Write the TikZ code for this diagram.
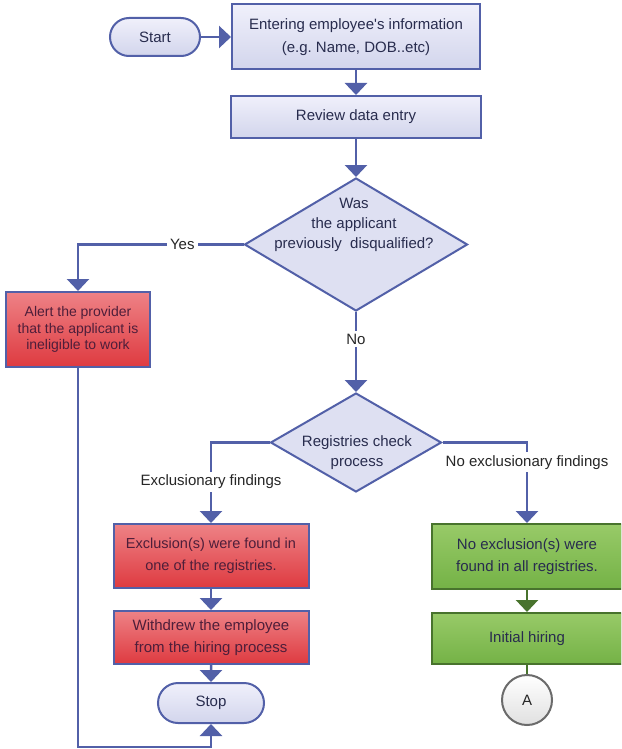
\documentclass[tikz,border=0pt]{standalone}
\usepackage{fontspec}
\setmainfont{Liberation Sans}
\frenchspacing
\usetikzlibrary{arrows.meta,shapes.geometric,shapes.misc}
\definecolor{lineblue}{RGB}{82,96,168}
\definecolor{boxtop}{RGB}{240,240,251}
\definecolor{boxbot}{RGB}{210,213,236}
\definecolor{redtop}{RGB}{238,130,134}
\definecolor{redbot}{RGB}{222,58,64}
\definecolor{greentop}{RGB}{152,202,104}
\definecolor{greenbot}{RGB}{116,178,70}
\definecolor{greenline}{RGB}{72,115,45}
\definecolor{txt}{RGB}{40,44,78}
\definecolor{redtxt}{RGB}{78,30,58}
\definecolor{diafill}{RGB}{222,224,242}
\newcommand\fsA{\fontsize{15}{22.5}\selectfont}
\newcommand\fsB{\fontsize{14}{16.5}\selectfont}
\newcommand\fsC{\fontsize{15}{20}\selectfont}
\newcommand\fsD{\fontsize{14.5}{22}\selectfont}
\tikzset{
  base/.style={draw=lineblue, line width=2pt, inner sep=0pt, align=center, font=\fsA, text=txt},
  bluebox/.style={base, rectangle, top color=boxtop, bottom color=boxbot},
  redbox/.style={base, rectangle, top color=redtop, bottom color=redbot, text=redtxt},
  greenbox/.style={base, rectangle, draw=greenline, top color=greentop, bottom color=greenbot},
  pill/.style={base, rounded rectangle, top color=boxtop, bottom color=boxbot},
  decision/.style={base, diamond, fill=diafill},
  conn/.style={draw=lineblue, line width=2.5pt, -{Triangle[width=22pt,length=12pt]}},
  gconn/.style={draw=greenline, line width=2.5pt, -{Triangle[width=22pt,length=12pt]}},
  lbl/.style={fill=white, inner sep=3pt, font=\fsA, text=black!85}
}
\begin{document}
\begin{tikzpicture}[x=1pt,y=-1pt]
\useasboundingbox (0,0) rectangle (621,749);
\clip (0,0) rectangle (621,749);
\fill[white] (0,0) rectangle (621,749);
% nodes
\node[pill, minimum width=90pt, minimum height=38pt] (start) at (155,37) {Start};
\node[bluebox, minimum width=248pt, minimum height=65pt] (box1) at (356,37) {Entering employee\textquotesingle s information\\(e.g. Name, DOB..etc)};
\node[bluebox, minimum width=250pt, minimum height=42pt] (box2) at (356,117) {Review data entry};
\node[decision, minimum width=223pt, minimum height=133pt] (d1) at (356,244.5) {};
\node[font=\fsC, text=txt, align=center] (d1t) at (354,225) {Was\\the applicant\\previously\ \ disqualified?};
\node[redbox, font=\fsB, minimum width=144pt, minimum height=75pt] (alert) at (78,329.5) {Alert the provider\\that the applicant is\\ineligible to work};
\node[decision, minimum width=171pt, minimum height=99pt] (d2) at (356,442.5) {};
\node[font=\fsC, text=txt, align=center] (d2t) at (357,453) {Registries check\\process};
\node[redbox, font=\fsD, minimum width=195pt, minimum height=64pt] (red2) at (211,556) {Exclusion(s) were found in\\one of the registries.};
\node[redbox, minimum width=195pt, minimum height=53pt] (red3) at (211,637.5) {Withdrew the employee\\from the hiring process};
\node[pill, minimum width=106pt, minimum height=40pt] (stop) at (211,703) {Stop};
\node[greenbox, minimum width=190pt, minimum height=65pt] (green1) at (527,556.5) {No exclusion(s) were\\found in all registries.};
\node[greenbox, minimum width=190pt, minimum height=51pt] (green2) at (527,638.5) {Initial hiring};
\node[circle, draw=black!58, line width=2pt, top color=white, bottom color=black!12, minimum size=50pt, inner sep=0pt, font=\fsA, text=black!85] (A) at (527,700) {A};
\coordinate (loopA) at (78,747);
\coordinate (loopB) at (211,747);
% connectors
\draw[conn] (start.east) -- (start.east -| box1.west);
\draw[conn] (box1) -- (box2);
\draw[conn] (box2) -- (d1.north);
\draw[conn] (d1.west) -- node[lbl, pos=0.37]{Yes} (d1.west -| alert.north) -- (alert.north);
\draw[conn] (d1.south) -- node[lbl, pos=0.34]{No} (d2.north);
\draw[conn] (alert.south) -- (loopA) -- (loopB) -- (stop.south);
\draw[conn] (d2.west) -| node[lbl, pos=0.745]{Exclusionary findings} (red2.north);
\draw[conn] (d2.east) -| node[lbl, pos=0.622]{No exclusionary findings} (green1.north);
\draw[conn] (red2) -- (red3);
\draw[conn] (red3) -- (stop);
\draw[gconn] (green1) -- (green2);
\draw[draw=greenline, line width=2.5pt] (green2) -- (A);
\end{tikzpicture}
\end{document}
